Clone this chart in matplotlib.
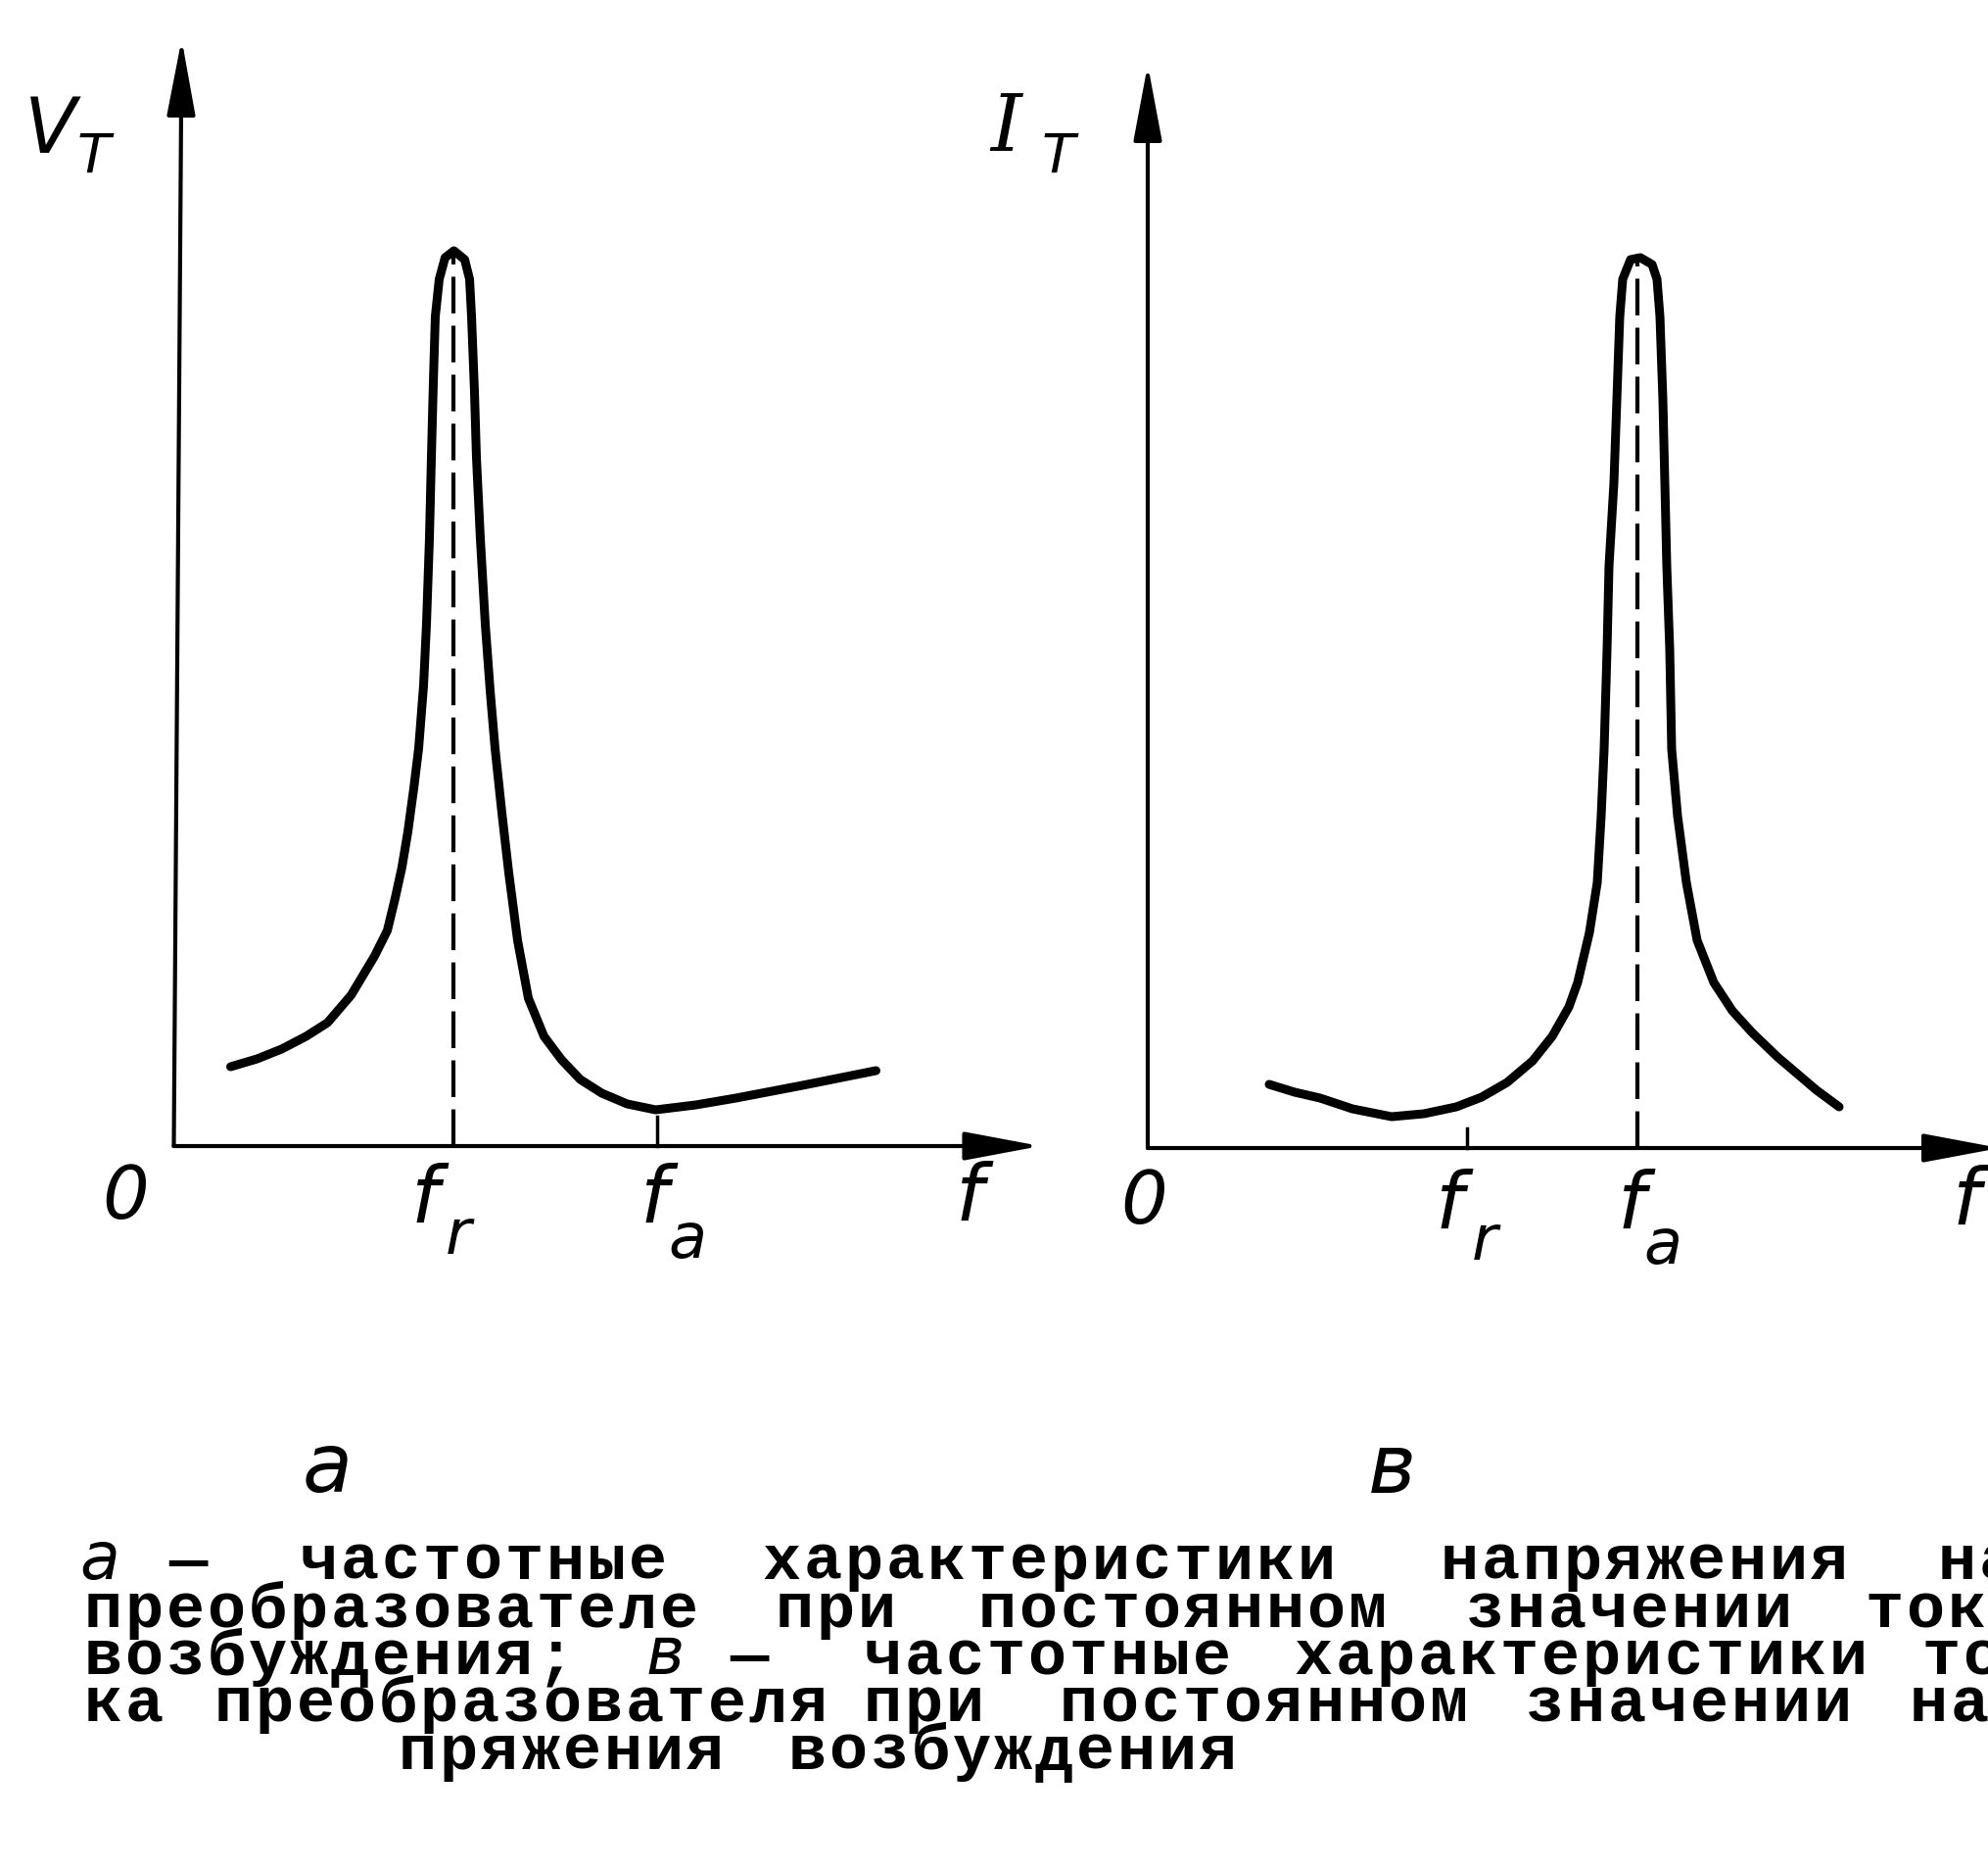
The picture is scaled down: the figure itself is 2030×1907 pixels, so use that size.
import matplotlib.pyplot as plt

W, H = 2031, 1907     # output size, px
DPI = 100

# --- a: voltage curve V_T(f), sketch units (1 unit = 100 px) ---
va_f = [0.58, 0.85, 1.10, 1.35, 1.57, 1.81, 2.05, 2.18, 2.26, 2.33, 2.39, 2.45,
        2.50, 2.55, 2.58, 2.61, 2.63, 2.65, 2.67, 2.71, 2.77, 2.86, 2.97, 3.02,
        3.04, 3.07, 3.09, 3.13, 3.18, 3.23, 3.28, 3.35, 3.42, 3.51, 3.62, 3.78,
        3.96, 4.15, 4.37, 4.63, 4.92, 5.33, 5.74, 6.42, 7.17]
va_v = [0.81, 0.89, 0.99, 1.12, 1.26, 1.54, 1.94, 2.20, 2.53, 2.85, 3.21, 3.65,
        4.06, 4.70, 5.33, 6.20, 7.03, 7.80, 8.47, 8.85, 9.07, 9.14, 9.05, 8.85,
        8.47, 7.70, 7.03, 6.20, 5.33, 4.65, 4.06, 3.40, 2.79, 2.10, 1.51, 1.12,
        0.88, 0.68, 0.54, 0.43, 0.37, 0.42, 0.49, 0.62, 0.77]
fr_a, fa_a = 2.86, 4.94

# --- в: current curve I_T(f) ---
ib_f = [1.24, 1.50, 1.76, 2.09, 2.49, 2.82, 3.15, 3.41, 3.67, 3.93, 4.13, 4.30,
        4.39, 4.51, 4.59, 4.63, 4.66, 4.69, 4.71, 4.76, 4.79, 4.82, 4.85, 4.93,
        5.03, 5.15, 5.20, 5.23, 5.26, 5.28, 5.30, 5.33, 5.35, 5.41, 5.50, 5.61,
        5.78, 5.97, 6.17, 6.43, 6.63, 6.83, 7.06]
ib_i = [0.65, 0.57, 0.51, 0.40, 0.32, 0.35, 0.42, 0.52, 0.67, 0.89, 1.14, 1.44,
        1.69, 2.20, 2.71, 3.39, 4.07, 5.09, 5.94, 6.79, 7.64, 8.49, 8.87, 9.07,
        9.09, 9.02, 8.87, 8.49, 7.64, 6.79, 5.94, 5.09, 4.07, 3.39, 2.71, 2.12,
        1.69, 1.40, 1.18, 0.93, 0.76, 0.59, 0.42]
fr_b, fa_b = 3.26, 5.00

# caption, justified like the printed page: (word, left px, italic)
caption = [
    [("а", 81, True), ("—", 171, False), ("частотные", 304, False),
     ("характеристики", 777, False), ("напряжения", 1469, False), ("на", 1977, False)],
    [("преобразователе", 84, False), ("при", 790, False), ("постоянном", 997, False),
     ("значении", 1495, False), ("тока", 1903, False)],
    [("возбуждения;", 84, False), ("в", 660, True), ("—", 744, False),
     ("частотные", 880, False), ("характеристики", 1320, False), ("то-", 1961, False)],
    [("ка", 84, False), ("преобразователя", 217, False), ("при", 880, False),
     ("постоянном", 1080, False), ("значении", 1556, False), ("на-", 1948, False)],
    [("пряжения", 405, False), ("возбуждения", 803, False)],
]
baselines = [1612, 1661, 1709, 1757, 1806]
PITCH = 42   # letter-spaced type: one cell per character

fig = plt.figure(figsize=(W / DPI, H / DPI), dpi=DPI)
fig.patch.set_facecolor("white")


def panel(x0, y0):
    # whole-sheet axes, origin at pixel (x0, y0), 100 px per unit
    ax = fig.add_axes([0, 0, 1, 1])
    ax.set_xlim(-x0 / 100, (W - x0) / 100)
    ax.set_ylim((y0 - H) / 100, y0 / 100)
    ax.axis("off")
    ax.patch.set_alpha(0)
    return ax


def arrows(ax, xend, yend, xtop=0.0):
    kw = dict(arrowstyle="-|>,head_length=1.6,head_width=0.3", lw=3, color="k",
              mutation_scale=30, shrinkA=0, shrinkB=0)
    ax.annotate("", xy=(xend, 0), xytext=(0, 0), arrowprops=kw, annotation_clip=False)
    ax.annotate("", xy=(xtop, yend), xytext=(0, 0), arrowprops=kw, annotation_clip=False)


def ptxt(x, y, s, size, family="DejaVu Sans", **kw):
    fig.text(x / W, 1 - y / H, s, fontsize=size, ha="center", va="center",
             family=family, style="oblique", **kw)


curve_kw = dict(color="k", lw=6.5, solid_joinstyle="round", solid_capstyle="round")
dash_kw = dict(color="k", lw=3, dashes=(9, 3))

# ---- panel a ----
ax1 = panel(177.5, 1170)
arrows(ax1, 8.85, 11.3, xtop=0.08)
ax1.plot(va_f, va_v, **curve_kw)
ax1.plot([fr_a, fr_a], [0, max(va_v)], **dash_kw)
ax1.plot([fa_a, fa_a], [0, 0.3], color="k", lw=2.5)

# ---- panel в ----
ax2 = panel(1172, 1172)
arrows(ax2, 8.7, 11.06)
ax2.plot(ib_f, ib_i, **curve_kw)
ax2.plot([fa_b, fa_b], [0, max(ib_i)], **dash_kw)
ax2.plot([fr_b, fr_b], [0, 0.2], color="k", lw=2.5)

# axis labels
ptxt(52, 134, "V", 56)
ptxt(96, 160, "T", 40)
ptxt(1027, 132, "I", 58, family="DejaVu Serif")
ptxt(1081, 160, "T", 40)

ptxt(128, 1223, "0", 54)
ptxt(434, 1226, "f", 58)
ptxt(468, 1262, "r", 46)
ptxt(668, 1226, "f", 58)
ptxt(702, 1266, "a", 46)
ptxt(990, 1224, "f", 58)

ptxt(1168, 1228, "0", 54)
ptxt(1480, 1232, "f", 58)
ptxt(1516, 1268, "r", 46)
ptxt(1666, 1232, "f", 58)
ptxt(1698, 1272, "a", 46)
ptxt(2008, 1228, "f", 58)

# panel letters
ptxt(334, 1500, "а", 60)
ptxt(1421, 1500, "в", 60)

# caption, set letter by letter in cells
for line, yb in zip(caption, baselines):
    for word, x, ital in line:
        if ital:
            fig.text(x / W, 1 - yb / H, word, fontsize=48, family="DejaVu Sans",
                     style="oblique", ha="left", va="baseline")
            continue
        for i, ch in enumerate(word):
            cx = x + PITCH * i + PITCH / 2
            fig.text(cx / W, 1 - yb / H, ch, fontsize=47, family="Liberation Mono",
                     weight="bold", ha="center", va="baseline")

fig.savefig("out.png", dpi=DPI)
